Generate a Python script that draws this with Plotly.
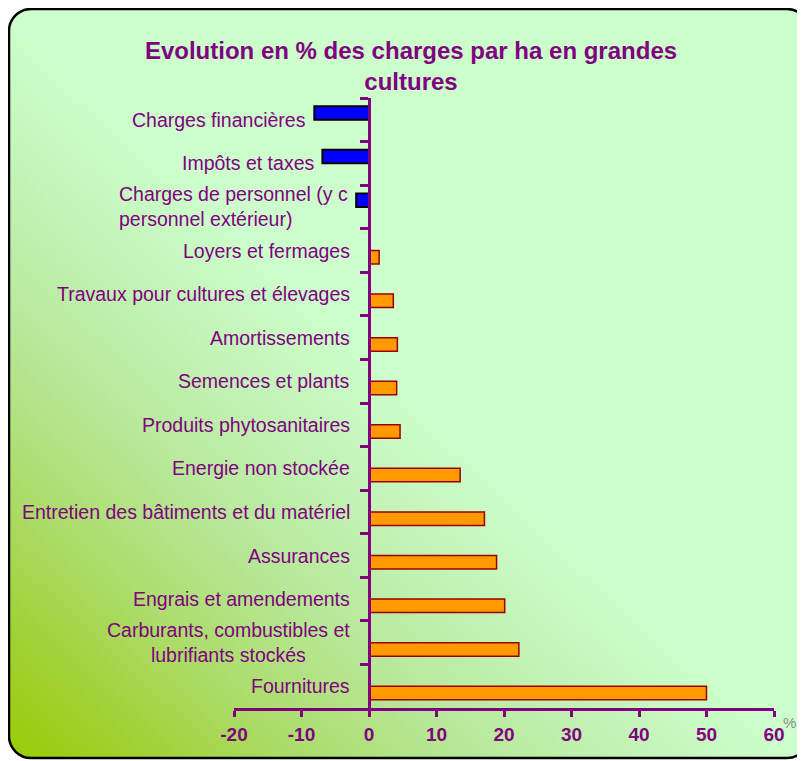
import base64
import plotly.graph_objects as go

# ---------------- data ----------------
categories = [
    "Charges financières",
    "Impôts et taxes",
    "Charges de personnel (y c<br>personnel extérieur)",
    "Loyers et fermages",
    "Travaux pour cultures et élevages",
    "Amortissements",
    "Semences et plants",
    "Produits phytosanitaires",
    "Energie non stockée",
    "Entretien des bâtiments et du matériel",
    "Assurances",
    "Engrais et amendements",
    "Carburants, combustibles et<br>lubrifiants stockés",
    "Fournitures",
]
values = [-8.1, -6.9, -1.9, 1.5, 3.6, 4.2, 4.1, 4.6, 13.5, 17.1, 18.9, 20.1, 22.2, 50.0]
x_ticks = [-20, -10, 0, 10, 20, 30, 40, 50, 60]
title_text = "Evolution en % des charges par ha en grandes<br>cultures"

# ---------------- layout constants ----------------
OFF = 8                      # page body margin
W, H = 805 - OFF, 761 - OFF  # figure size
ML, MR, MT, MB = 226, 31, 90, 53
PURPLE = "#800080"
FONT = "Liberation Sans, Arial, sans-serif"
XMIN, XMAX = x_ticks[0], x_ticks[-1]

neg_vals = [v if v < 0 else None for v in values]
pos_vals = [v if v >= 0 else None for v in values]

# background: rounded frame with diagonal green gradient (drawn in window coords)
svg = f"""<svg xmlns='http://www.w3.org/2000/svg' width='{W}' height='{H}' viewBox='{OFF} {OFF} {W} {H}' preserveAspectRatio='none'>
<defs><linearGradient id='g' x1='0' y1='1' x2='1' y2='0'>
<stop offset='0' stop-color='#99CC05'/>
<stop offset='0.08' stop-color='#A0D130'/>
<stop offset='0.18' stop-color='#ABDC68'/>
<stop offset='0.29' stop-color='#B7E898'/>
<stop offset='0.40' stop-color='#C3F4B8'/>
<stop offset='0.5' stop-color='#CCFFCC'/>
<stop offset='1' stop-color='#CCFFCC'/>
</linearGradient></defs>
<rect x='0' y='0' width='900' height='900' fill='white'/>
<rect x='9' y='9' width='800' height='749' rx='22' ry='22' fill='url(#g)' stroke='black' stroke-width='2.5'/>
</svg>"""
svg_uri = "data:image/svg+xml;base64," + base64.b64encode(svg.encode()).decode()

pw, ph = W - ML - MR, H - MT - MB

fig = go.Figure()
fig.add_trace(go.Bar(
    y=categories, x=neg_vals, orientation="h",
    marker=dict(color="#0000FF", line=dict(color="#000000", width=2)),
    showlegend=False, hoverinfo="x+y",
))
fig.add_trace(go.Bar(
    y=categories, x=pos_vals, orientation="h",
    marker=dict(color="#FF9900", line=dict(color="#990000", width=1.5)),
    showlegend=False, hoverinfo="x+y",
))

annotations = []
for cat, v in zip(categories, values):
    annotations.append(dict(
        x=min(v, 0), y=cat, xref="x", yref="y",
        text=cat, showarrow=False,
        xanchor="right", yanchor="middle",
        xshift=-6 if v < 0 else -17,
        align="left" if "personnel" in cat else "center",
        font=dict(family=FONT, size=19.5, color=PURPLE),
    ))
annotations.append(dict(
    x=1, y=0, xref="paper", yref="paper", text="%", showarrow=False,
    xanchor="left", yanchor="middle", xshift=7, yshift=-14,
    font=dict(family=FONT, size=15, color="#8C8C8C"),
))

fig.update_layout(
    width=W, height=H,
    margin=dict(l=ML, r=MR, t=MT, b=MB),
    paper_bgcolor="white",
    plot_bgcolor="rgba(0,0,0,0)",
    barmode="group", bargap=0.38, bargroupgap=0,
    title=dict(
        text=title_text, x=403 / W, xanchor="center",
        y=1 - 51 / H, yanchor="top", yref="container",
        font=dict(family=FONT, size=24, color=PURPLE, weight="bold"),
    ),
    xaxis=dict(
        range=[XMIN, XMAX], tickvals=x_ticks, ticktext=[str(t) for t in x_ticks],
        showline=True, linecolor=PURPLE, linewidth=3,
        ticks="outside", ticklen=6, tickwidth=3, tickcolor=PURPLE,
        showgrid=False, zeroline=False,
        tickfont=dict(family=FONT, size=19, color=PURPLE, weight="bold"),
        ticklabelstandoff=1,
    ),
    yaxis=dict(
        type="category", categoryorder="array", categoryarray=categories,
        autorange="reversed",
        anchor="free", position=(0 - XMIN) / (XMAX - XMIN),
        showline=True, linecolor=PURPLE, linewidth=3,
        ticks="outside", tickson="boundaries", ticklen=8, tickwidth=3, tickcolor=PURPLE,
        showticklabels=False, showgrid=False, zeroline=False,
    ),
    annotations=annotations,
    images=[dict(
        source=svg_uri, xref="paper", yref="paper",
        x=-ML / pw, y=1 + MT / ph, sizex=W / pw, sizey=H / ph,
        xanchor="left", yanchor="top", sizing="stretch", layer="below",
    )],
)

fig.write_html("out.html")
